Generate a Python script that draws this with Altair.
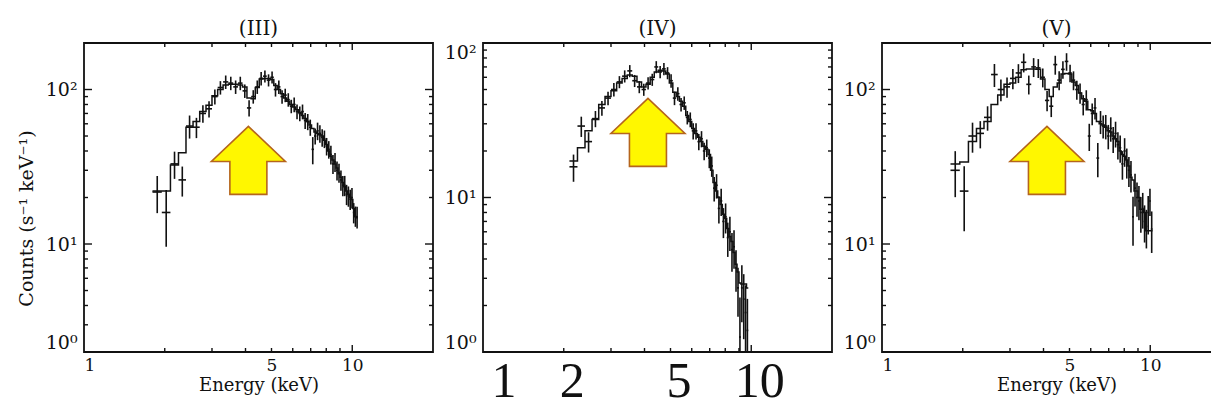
import math
import altair as alt
import pandas as pd

# ---------------- data ----------------
HALF_BIN = 0.075  # keV, half width of each energy channel

# Panel (III)
E3 = [1.875, 2.025, 2.175, 2.325, 2.475, 2.625, 2.775, 2.925, 3.075, 3.225,
      3.375, 3.525, 3.675, 3.825, 3.975, 4.125, 4.275, 4.425, 4.575, 4.725,
      4.875, 5.025, 5.175, 5.325, 5.475, 5.625, 5.775, 5.925, 6.075, 6.225,
      6.375, 6.525, 6.675, 6.825, 6.975, 7.125, 7.275, 7.425, 7.575, 7.725,
      7.875, 8.025, 8.175, 8.325, 8.475, 8.625, 8.775, 8.925, 9.075, 9.225,
      9.375, 9.525, 9.675, 9.825, 9.975, 10.125, 10.275, 10.425]
MODEL3 = [22, 22, 32.5, 39, 57, 62, 72, 79, 91, 100,
          107, 108, 108, 107, 104, 88, 87, 103, 117, 118,
          118, 116, 106, 100, 94, 88, 84, 80, 77, 74,
          71, 68, 65, 62, 59, 56, 53, 52, 51, 50,
          47, 44, 40, 37, 35, 33, 31, 28.5, 27, 25,
          23.5, 22, 21, 20, 19.4, 17, 15, 14.8]
DATA3 = [21.7, 16, 33, 26, 58, 57, 70, 75, 90, 103,
         112, 110, 104, 110, 98, 76, 90, 104, 118, 122,
         115, 120, 100, 104, 90, 92, 86, 78, 80, 72,
         70, 72, 63, 62, 57, 41, 50, 54, 52, 49,
         48, 43, 41, 38, 33, 34, 30, 29, 26, 24,
         24, 21, 20.5, 19.5, 20, 16, 15.2, 15]
ERR3 = [0.27, 0.4, 0.2, 0.22, 0.17, 0.15, 0.13, 0.12, 0.11, 0.1,
        0.1, 0.1, 0.1, 0.1, 0.1, 0.12, 0.1, 0.1, 0.1, 0.09,
        0.09, 0.09, 0.1, 0.1, 0.1, 0.1, 0.1, 0.1, 0.11, 0.11,
        0.11, 0.11, 0.12, 0.12, 0.12, 0.2, 0.12, 0.13, 0.13, 0.13,
        0.13, 0.13, 0.13, 0.14, 0.14, 0.14, 0.14, 0.14, 0.15, 0.15,
        0.15, 0.15, 0.15, 0.15, 0.15, 0.15, 0.15, 0.16]

# Panel (IV)
E4 = [2.175, 2.325, 2.475, 2.625, 2.775, 2.925, 3.075, 3.225, 3.375, 3.525,
      3.675, 3.825, 3.975, 4.125, 4.275, 4.425, 4.575, 4.725, 4.875, 5.025,
      5.175, 5.325, 5.475, 5.625, 5.775, 5.925, 6.075, 6.225, 6.375, 6.525,
      6.675, 6.825, 6.975, 7.125, 7.275, 7.425, 7.575, 7.725, 7.875, 8.025,
      8.175, 8.325, 8.475, 8.625, 8.775, 8.925, 9.075, 9.225, 9.375, 9.525,
      9.675]
MODEL4 = [17.2, 21, 27, 32, 40, 45, 49, 55, 59, 62,
          61, 56, 52, 54, 60, 65, 66.5, 66, 63, 55,
          48, 45, 42, 39, 34, 31, 28, 26, 24.5, 23,
          21.5, 20.5, 19, 15, 12.5, 11, 10, 9, 7.8, 7.3,
          6.3, 5.6, 5.2, 4.4, 3.7, 3.3, 2.8, 2.75, 2.75, 2.75,
          2.6]
DATA4 = [15.8, 29, 23, 32.4, 38, 44, 50, 56, 61, 66,
         57, 52, 50, 55, 58, 70, 65, 68, 64, 57,
         44, 47, 40, 41, 33, 32, 27, 27, 23, 24,
         20, 21, 18, 16, 11.5, 12, 8.5, 9.5, 7, 7.5,
         5.5, 6, 4.6, 4.8, 3.5, 2.6, 1.25, 2.6, 2.2, 1.8,
         1.38]
ERR4 = [0.2, 0.15, 0.15, 0.12, 0.11, 0.1, 0.1, 0.09, 0.09, 0.09,
        0.09, 0.09, 0.09, 0.09, 0.09, 0.09, 0.09, 0.09, 0.09, 0.1,
        0.1, 0.1, 0.1, 0.1, 0.1, 0.11, 0.12, 0.12, 0.12, 0.12,
        0.13, 0.13, 0.14, 0.15, 0.18, 0.18, 0.2, 0.2, 0.22, 0.22,
        0.25, 0.25, 0.28, 0.28, 0.3, 0.35, 0.8, 0.4, 0.45, 0.5,
        0.6]

# Panel (V)
E5 = [1.875, 2.025, 2.175, 2.325, 2.475, 2.625, 2.775, 2.925, 3.075, 3.225,
      3.375, 3.525, 3.675, 3.825, 3.975, 4.125, 4.275, 4.425, 4.575, 4.725,
      4.875, 5.025, 5.175, 5.325, 5.475, 5.625, 5.775, 5.925, 6.075, 6.225,
      6.375, 6.525, 6.675, 6.825, 6.975, 7.125, 7.275, 7.425, 7.575, 7.725,
      7.875, 8.025, 8.175, 8.325, 8.475, 8.625, 8.775, 8.925, 9.075, 9.225,
      9.375, 9.525, 9.675, 9.825, 9.975, 10.125]
MODEL5 = [33, 34, 46, 56, 62, 80, 92, 108, 110, 120,
          134, 136, 136, 135, 117, 100, 90, 104, 110, 126,
          127, 126, 112, 106, 95, 87, 84, 74, 73, 70,
          62, 60, 59, 57, 54, 53, 50, 48, 46, 40,
          38, 37, 35, 32, 27, 26, 22, 22, 20, 16.8,
          16.8, 16, 12.2, 12.2, 12.2, 12.2]
DATA5 = [30, 22, 50, 52, 66, 125, 100, 104, 118, 128,
         150, 108, 140, 138, 120, 85, 78, 145, 115, 135,
         152, 128, 115, 100, 95, 80, 86, 50, 70, 76,
         36, 62, 58, 58, 50, 56, 48, 52, 44, 42,
         33, 40, 34, 30, 28, 15, 23, 20, 19, 16,
         17, 14, 13, 16, 19, 12.5]
ERR5 = [0.33, 0.45, 0.22, 0.2, 0.18, 0.17, 0.16, 0.15, 0.15, 0.14,
        0.14, 0.14, 0.14, 0.14, 0.14, 0.15, 0.15, 0.14, 0.14, 0.13,
        0.13, 0.13, 0.14, 0.14, 0.15, 0.15, 0.15, 0.2, 0.16, 0.16,
        0.25, 0.17, 0.17, 0.18, 0.18, 0.18, 0.19, 0.19, 0.2, 0.2,
        0.21, 0.21, 0.22, 0.22, 0.23, 0.35, 0.24, 0.25, 0.25, 0.26,
        0.26, 0.27, 0.28, 0.28, 0.2, 0.3]

# arrow annotations (energy keV, counts)
ARROW_E = [4.1, 4.12, 4.12]
ARROW_C = [34.8, 26.4, 34.8]

PANEL_TITLES = ["(III)", "(IV)", "(V)"]
Y_TITLE = "Counts (s\u207b\u00b9 keV\u207b\u00b9)"
X_TITLE = "Energy (keV)"
BIG_X_LABELS = [1, 2, 5, 10]
SMALL_X_LABELS = [1, 5, 10]
X_DOMAIN = [1, 20]
X_MINOR = [2, 3, 4, 5, 6, 7, 8, 9]
X_MAJOR = [10]

# ---------------- styling ----------------
INK = "#111111"
SERIF = "DejaVu Serif"
ARROW_PATH = "M0,-0.92 L1,0.03 L0.5,0.03 L0.5,0.92 L-0.5,0.92 L-0.5,0.03 L-1,0.03 Z"
H = 309
W = 349
MINOR_LEN = 4
MAJOR_LEN = 8


def spectra_df(E, model, data, err):
    df = pd.DataFrame({"E": E, "model": model, "data": data, "err": err})
    df["lo"] = df["E"] - HALF_BIN
    df["hi"] = df["E"] + HALF_BIN
    df["dlo"] = df["data"] * (1 - df["err"])
    df["dhi"] = df["data"] * (1 + df["err"])
    return df


def step_df(df):
    xs = list(df["lo"]) + [df["hi"].iloc[-1]]
    ys = list(df["model"]) + [df["model"].iloc[-1]]
    return pd.DataFrame({"E": xs, "model": ys})


def panel(idx, E, model, data, err, ydom, xaxis, yaxis):
    df = spectra_df(E, model, data, err)
    xscale = alt.Scale(type="log", domain=X_DOMAIN, nice=False)
    yscale = alt.Scale(type="log", domain=ydom, nice=False)

    def X(f):
        return alt.X(f, type="quantitative", scale=xscale, axis=None)

    def Y(f):
        return alt.Y(f, type="quantitative", scale=yscale, axis=None)

    line = alt.Chart(step_df(df)).mark_line(
        interpolate="step-after", color=INK, strokeWidth=1.5, clip=True
    ).encode(
        x=alt.X("E", type="quantitative", scale=xscale, axis=xaxis),
        y=alt.Y("model", type="quantitative", scale=yscale, axis=yaxis),
    )
    hbar = alt.Chart(df).mark_rule(color=INK, strokeWidth=1.6, clip=True).encode(
        x=X("lo"), x2="hi", y=Y("data"))
    vbar = alt.Chart(df).mark_rule(color=INK, strokeWidth=1.6, clip=True).encode(
        x=X("E"), y=Y("dlo"), y2="dhi")
    arrow = alt.Chart(pd.DataFrame({"E": [ARROW_E[idx]], "c": [ARROW_C[idx]]})).mark_point(
        shape=ARROW_PATH, size=74 * 74, filled=True, fill="#FFF700",
        stroke="#B5651D", strokeWidth=1.6, opacity=1, fillOpacity=1
    ).encode(x=X("E"), y=Y("c"))

    # inward frame ticks (tick length converted from pixels to a log factor)
    if ydom[0] == 2:
        yminor = [3, 4, 5, 6, 7, 8, 9, 20, 30, 40, 50, 60, 70, 80, 90]
        ymajor = [10, 100]
    else:
        yminor = [2, 3, 4, 5, 6, 7, 8, 9, 20, 30, 40, 50, 60, 70, 80, 90]
        ymajor = [10]
    ydec = math.log10(ydom[1] / ydom[0])
    xdec = math.log10(X_DOMAIN[1] / X_DOMAIN[0])
    ticks = []
    for vals, ln in ((X_MINOR, MINOR_LEN), (X_MAJOR, MAJOR_LEN - 1)):
        f = 10 ** (ydec * ln / H)
        for a, b in ((ydom[0], ydom[0] * f), (ydom[1] / f, ydom[1])):
            d = pd.DataFrame({"v": vals, "a": [a] * len(vals), "b": [b] * len(vals)})
            ticks.append(alt.Chart(d).mark_rule(color=INK, strokeWidth=1.4).encode(
                x=X("v"), y=Y("a"), y2="b"))
    for vals, ln in ((yminor, MINOR_LEN), (ymajor, MAJOR_LEN)):
        f = 10 ** (xdec * ln / W)
        for a, b in ((X_DOMAIN[0], X_DOMAIN[0] * f), (X_DOMAIN[1] / f, X_DOMAIN[1])):
            d = pd.DataFrame({"v": vals, "a": [a] * len(vals), "b": [b] * len(vals)})
            ticks.append(alt.Chart(d).mark_rule(color=INK, strokeWidth=1.4).encode(
                y=Y("v"), x=X("a"), x2="b"))

    return alt.layer(line, hbar, vbar, *ticks, arrow).resolve_axis(
        x="independent", y="independent"
    ).properties(
        width=W, height=H,
        title=alt.TitleParams(PANEL_TITLES[idx], font=SERIF, fontSize=20,
                              fontWeight="normal", color=INK, offset=3),
    )


def y_axis(vals, title=None):
    expr = ("datum.value < 3 ? '10\u2070' : "
            "datum.value < 50 ? '10\u00b9' : '10\u00b2'")
    kw = dict(values=vals, labelExpr=expr, ticks=False, domain=False, grid=False,
              labelFont=SERIF, labelFontSize=19, labelColor=INK, labelPadding=7,
              labelFlush=True, labelOverlap=False, labelBound=False, orient="left")
    if title:
        kw.update(title=title, titleFont=SERIF, titleFontSize=19,
                  titleFontWeight="normal", titleColor=INK, titlePadding=9,
                  titleY=175)
    else:
        kw.update(title=None)
    return alt.Axis(**kw)


def x_axis_small():
    return alt.Axis(values=SMALL_X_LABELS, labelExpr="format(datum.value, 'd')",
                    ticks=False, domain=False, grid=False, labelFont=SERIF,
                    labelFontSize=17, labelColor=INK, labelPadding=5,
                    labelFlush=True, labelOverlap=False, labelBound=False,
                    orient="bottom",
                    title=X_TITLE, titleFont=SERIF, titleFontSize=18,
                    titleFontWeight="normal", titleColor=INK, titlePadding=3)


def x_axis_big():
    return alt.Axis(values=BIG_X_LABELS, labelExpr="format(datum.value, 'd')",
                    ticks=False, domain=False, grid=False,
                    labelFont="Liberation Serif", labelFontSize=50,
                    labelColor=INK, labelPadding=4, labelFlush=True,
                    labelOffset=8,
                    labelOverlap=False, labelBound=False, orient="bottom",
                    title=None)


p3 = panel(0, E3, MODEL3, DATA3, ERR3, [2, 200],
           x_axis_small(), y_axis([2, 10, 100], Y_TITLE))
p4 = panel(1, E4, MODEL4, DATA4, ERR4, [1, 100],
           x_axis_big(), y_axis([1, 10, 100]))
p5 = panel(2, E5, MODEL5, DATA5, ERR5, [2, 200],
           x_axis_small(), y_axis([2, 10, 100]))

chart = alt.hconcat(p3, p4, p5, spacing=50, bounds="flush").properties(
    autosize=alt.AutoSizeParams(type="none"),
    padding={"left": 76, "top": 35, "right": 1127, "bottom": 353},
    background="white",
).configure_view(stroke=INK, strokeWidth=1.8)

chart.save("out.html", embed_options={"renderer": "svg", "actions": False})
